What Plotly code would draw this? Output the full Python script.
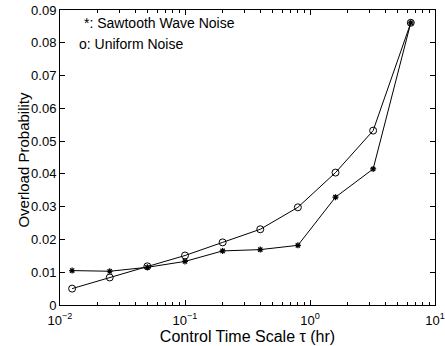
import plotly.graph_objects as go

tau = [0.0125, 0.025, 0.05, 0.1, 0.2, 0.4, 0.8, 1.6, 3.2, 6.4]
sawtooth = [0.0105, 0.0103, 0.0115, 0.0133, 0.0165, 0.0169, 0.0182, 0.0329, 0.0415, 0.0861]
uniform = [0.0050, 0.0084, 0.0118, 0.0151, 0.0191, 0.0231, 0.0298, 0.0404, 0.0532, 0.0861]
xtickvals = [0.01, 0.1, 1, 10]
xticktext = ["10<sup>−2</sup>", "10<sup>−1</sup>", "10<sup>0</sup>", "10<sup>1</sup>"]

font = dict(family="Liberation Sans, Arial, sans-serif", size=13, color="black")
notefont = dict(family="Liberation Sans, Arial, sans-serif", size=14, color="black")
ytitlefont = dict(family="Liberation Sans, Arial, sans-serif", size=15, color="black")

fig = go.Figure()
fig.add_trace(go.Scatter(x=tau, y=sawtooth, mode="lines+markers",
                         line=dict(color="black", width=1),
                         marker=dict(symbol="asterisk-open", size=5, color="black",
                                     line=dict(color="black", width=1.2)),
                         showlegend=False))
fig.add_trace(go.Scatter(x=tau, y=uniform, mode="lines+markers",
                         line=dict(color="black", width=1),
                         marker=dict(symbol="circle-open", size=7, color="black",
                                     line=dict(color="black", width=1)),
                         showlegend=False))

fig.add_annotation(xref="paper", yref="paper", x=0.058, y=0.956, xanchor="left", yanchor="middle",
                   text="*: Sawtooth Wave Noise", showarrow=False, font=notefont)
fig.add_annotation(xref="paper", yref="paper", x=0.045, y=0.884, xanchor="left", yanchor="middle",
                   text="o: Uniform Noise", showarrow=False, font=notefont)
fig.add_annotation(xref="paper", yref="paper", x=0, y=0.493, xshift=-36,
                   xanchor="center", yanchor="middle", textangle=-90,
                   text="Overload Probability", showarrow=False, font=ytitlefont)

fig.update_layout(
    width=445, height=346,
    margin=dict(l=60, r=10, t=10, b=41),
    paper_bgcolor="white", plot_bgcolor="white",
    font=font,
    xaxis=dict(type="log", range=[-2, 1], tickvals=xtickvals, ticktext=xticktext,
               ticks="inside", ticklen=5, tickcolor="black",
               showline=True, linecolor="black", linewidth=1, mirror="ticks",
               showgrid=False, zeroline=False, automargin=False,
               ticklabelstandoff=3,
               minor=dict(ticks="inside", ticklen=3, tickcolor="black", showgrid=False, dtick="D1"),
               title=dict(text="Control Time Scale τ (hr)", standoff=0)),
    yaxis=dict(range=[0, 0.09], dtick=0.01, tick0=0,
               ticks="inside", ticklen=5, tickcolor="black",
               showline=True, linecolor="black", linewidth=1, mirror="ticks",
               showgrid=False, zeroline=False, automargin=False),
)

fig.write_html("out.html")
